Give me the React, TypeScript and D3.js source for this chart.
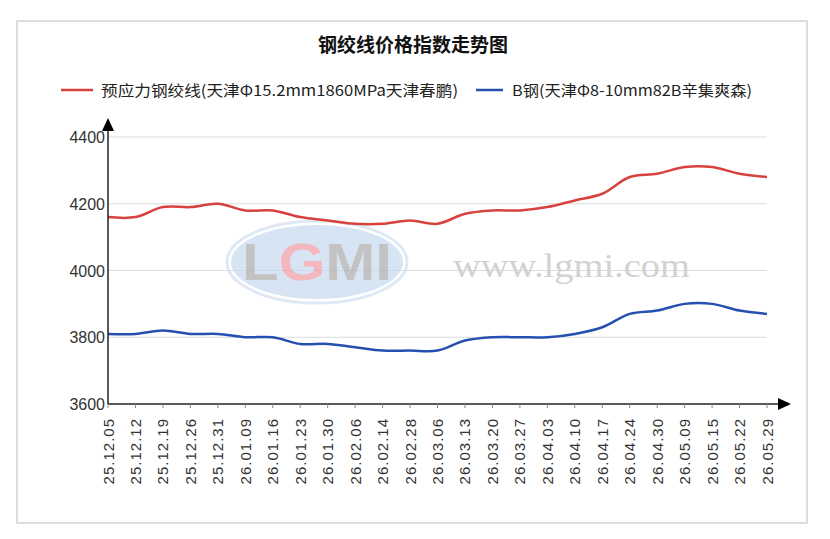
import { useEffect, useRef } from "react";
import * as d3 from "d3";

const dates = [
  "25.12.05", "25.12.12", "25.12.19", "25.12.26", "25.12.31",
  "26.01.09", "26.01.16", "26.01.23", "26.01.30", "26.02.06",
  "26.02.14", "26.02.28", "26.03.06", "26.03.13", "26.03.20",
  "26.03.27", "26.04.03", "26.04.10", "26.04.17", "26.04.24",
  "26.04.30", "26.05.09", "26.05.15", "26.05.22", "26.05.29",
];

// 预应力钢绞线
const strandValues = [
  4160, 4160, 4190, 4190, 4200, 4180, 4180, 4160, 4150, 4140,
  4140, 4150, 4140, 4170, 4180, 4180, 4190, 4210, 4230, 4280,
  4290, 4310, 4310, 4290, 4280,
];

// B钢
const bSteelValues = [
  3810, 3810, 3820, 3810, 3810, 3800, 3800, 3780, 3780, 3770,
  3760, 3760, 3760, 3790, 3800, 3800, 3800, 3810, 3830, 3870,
  3880, 3900, 3900, 3880, 3870,
];

const yTicks = [3600, 3800, 4000, 4200, 4400];

const seriesNames = [
  "预应力钢绞线(天津Φ15.2mm1860MPa天津春鹏)",
  "B钢(天津Φ8-10mm82B辛集爽森)",
];
const seriesColors = ["#d8423e", "#2650b0"];

const W = 830;
const H = 539;

const App = () => {
  const svgRef = useRef(null);

  useEffect(() => {
    const svg = d3.select(svgRef.current);
    svg.selectAll("*").remove();

    const font = "'Liberation Sans', Arial, 'Noto Sans CJK SC', sans-serif";
    const cjk = "'Noto Sans CJK SC', 'Liberation Sans', sans-serif";

    // frame
    svg.append("rect")
      .attr("x", 17).attr("y", 21)
      .attr("width", 790).attr("height", 502)
      .attr("fill", "#fff")
      .attr("stroke", "#dedede")
      .attr("stroke-width", 2);

    const x = d3.scalePoint().domain(dates).range([108, 767]);
    const y = d3.scaleLinear().domain([3600, 4400]).range([404, 137]);

    // grid
    svg.append("g")
      .selectAll("line")
      .data(yTicks.filter(t => t > 3600))
      .join("line")
      .attr("x1", 108).attr("x2", 767)
      .attr("y1", d => y(d)).attr("y2", d => y(d))
      .attr("stroke", "#dcdcdc")
      .attr("stroke-width", 1);

    // watermark
    const wm = svg.append("g").attr("opacity", 0.75);
    wm.append("ellipse")
      .attr("cx", 317).attr("cy", 262)
      .attr("rx", 86).attr("ry", 37)
      .attr("fill", "#c9dcf0");
    wm.append("ellipse")
      .attr("cx", 317).attr("cy", 262)
      .attr("rx", 90).attr("ry", 41)
      .attr("fill", "none")
      .attr("stroke", "#d3e2f2")
      .attr("stroke-width", 3);
    const logo = wm.append("text")
      .attr("x", 317).attr("y", 280)
      .attr("text-anchor", "middle")
      .attr("font-family", font)
      .attr("font-weight", "bold")
      .attr("font-size", 52)
      .attr("textLength", 150)
      .attr("lengthAdjust", "spacingAndGlyphs")
      .attr("fill", "#b0b0b0");
    logo.append("tspan").text("L");
    logo.append("tspan").attr("fill", "#f0a0a8").text("G");
    logo.append("tspan").text("MI");
    svg.append("text")
      .attr("x", 453).attr("y", 277)
      .attr("font-family", "'Liberation Serif', 'DejaVu Serif', serif")
      .attr("font-size", 34)
      .attr("textLength", 237)
      .attr("lengthAdjust", "spacingAndGlyphs")
      .attr("fill", "#d2d2d2")
      .text("www.lgmi.com");

    // series lines
    const line = d3.line<number>()
      .x((_, i) => x(dates[i]))
      .y(d => y(d))
      .curve(d3.curveCatmullRom.alpha(0.5));

    [strandValues, bSteelValues].forEach((vals, k) => {
      svg.append("path")
        .datum(vals)
        .attr("d", line)
        .attr("fill", "none")
        .attr("stroke", seriesColors[k])
        .attr("stroke-width", 2.5);
    });

    // axes
    const axisColor = "#222";
    svg.append("line")
      .attr("x1", 108).attr("x2", 108)
      .attr("y1", 404).attr("y2", 128)
      .attr("stroke", axisColor).attr("stroke-width", 1.5);
    svg.append("path")
      .attr("d", "M108,118 L102,131 L114,131 Z")
      .attr("fill", "#000");
    svg.append("line")
      .attr("x1", 108).attr("x2", 780)
      .attr("y1", 404).attr("y2", 404)
      .attr("stroke", axisColor).attr("stroke-width", 1.5);
    svg.append("path")
      .attr("d", "M791,404 L778,398 L778,410 Z")
      .attr("fill", "#000");

    // x ticks
    svg.append("g")
      .selectAll("line")
      .data(dates)
      .join("line")
      .attr("x1", d => x(d)).attr("x2", d => x(d))
      .attr("y1", 404).attr("y2", 408)
      .attr("stroke", "#888");

    // y labels
    svg.append("g")
      .selectAll("text")
      .data(yTicks)
      .join("text")
      .attr("x", 105)
      .attr("y", d => y(d) + 6)
      .attr("text-anchor", "end")
      .attr("font-family", font)
      .attr("font-size", 16)
      .attr("fill", "#333")
      .text(d => d);

    // x labels
    svg.append("g")
      .selectAll("text")
      .data(dates)
      .join("text")
      .attr("transform", d => `translate(${x(d) + 5.5},418) rotate(-90)`)
      .attr("text-anchor", "end")
      .attr("font-family", font)
      .attr("font-size", 15)
      .attr("letter-spacing", 1)
      .attr("fill", "#333")
      .text(d => d);

    // title
    svg.append("text")
      .attr("x", 413).attr("y", 52)
      .attr("text-anchor", "middle")
      .attr("font-family", cjk)
      .attr("font-weight", "bold")
      .attr("font-size", 19)
      .attr("fill", "#111")
      .text("钢绞线价格指数走势图");

    // legend
    const legend = [
      { x1: 61, x2: 93, tx: 101, len: 357 },
      { x1: 476, x2: 503, tx: 512, len: 240 },
    ];
    legend.forEach((l, k) => {
      svg.append("line")
        .attr("x1", l.x1).attr("x2", l.x2)
        .attr("y1", 90).attr("y2", 90)
        .attr("stroke", seriesColors[k])
        .attr("stroke-width", 2.5);
      svg.append("text")
        .attr("x", l.tx).attr("y", 96)
        .attr("font-family", cjk)
        .attr("font-size", 15)
        .attr("textLength", l.len)
        .attr("lengthAdjust", "spacingAndGlyphs")
        .attr("fill", "#222")
        .text(seriesNames[k]);
    });
  }, []);

  return (
    <svg
      ref={svgRef}
      width={W}
      height={H}
      style={{ position: "absolute", left: 0, top: 0, background: "#fff" }}
    />
  );
};

export default App;
